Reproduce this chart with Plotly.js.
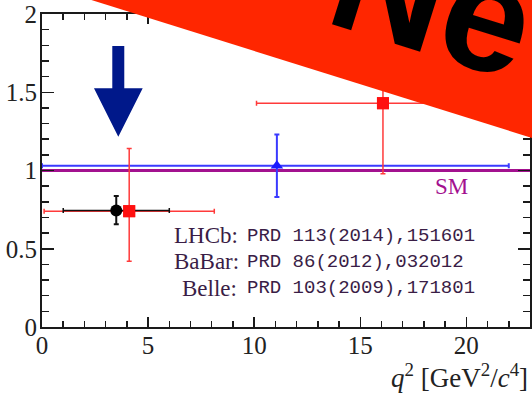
<!DOCTYPE html>
<html>
<head>
<meta charset="utf-8">
<script src="https://cdn.plot.ly/plotly-3.0.1.min.js"></script>
<style>
  html, body { margin: 0; padding: 0; background: #fff; }
  #chart { width: 532px; height: 394px; }
</style>
</head>
<body>
<div id="chart"></div>
<script>
// R_K measurements versus q^2 (GeV^2/c^4)
// LHCb (1 < q^2 < 6)
const lhcbX = [3.5];
const lhcbY = [0.745];
const lhcbXlo = [2.5];
const lhcbXhi = [2.5];
const lhcbYlo = [0.088];
const lhcbYhi = [0.092];

// BaBar (low and high q^2 bins)
const babarX = [4.11, 16.07];
const babarY = [0.74, 1.43];
const babarXlo = [4.01, 5.96];
const babarXhi = [4.01, 5.96];
const babarYlo = [0.32, 0.45];
const babarYhi = [0.40, 0.65];

// Belle (full q^2 range)
const belleX = [11.07];
const belleY = [1.03];
const belleXlo = [11.07];
const belleXhi = [10.93];
const belleYlo = [0.20];
const belleYhi = [0.20];

// Standard Model expectation
const smX = [0, 23];
const smY = [1, 1];

// Reference lines shown in the box
const expNames = ['LHCb:', 'BaBar:', 'Belle:'];
const expRefs = ['PRD 113(2014),151601', 'PRD 86(2012),032012', 'PRD 103(2009),171801'];

const serif = 'Liberation Serif, Times New Roman, serif';
const mono = 'Liberation Mono, Courier New, monospace';
const textCol = '#3a1d46';

function errBars(lo, hi, color, w) {
  return { type: 'data', symmetric: false, array: hi, arrayminus: lo,
           color: color, thickness: w, width: 2.5 };
}

const traces = [
  { x: smX, y: smY, mode: 'lines', line: { color: '#a3118f', width: 3 },
    hoverinfo: 'skip' },
  { x: belleX, y: belleY, mode: 'markers',
    marker: { symbol: 'triangle-up', size: 11, color: '#1a1aff' },
    error_x: errBars(belleXlo, belleXhi, '#3a3aff', 2),
    error_y: errBars(belleYlo, belleYhi, '#3a3aff', 2) },
  { x: babarX, y: babarY, mode: 'markers',
    marker: { symbol: 'square', size: 12, color: '#ff1010' },
    error_x: errBars(babarXlo, babarXhi, '#ff3a3a', 1.5),
    error_y: errBars(babarYlo, babarYhi, '#ff3a3a', 1.5) },
  { x: lhcbX, y: lhcbY, mode: 'markers',
    marker: { symbol: 'circle', size: 12, color: '#000' },
    error_x: errBars(lhcbXlo, lhcbXhi, '#111', 1.5),
    error_y: errBars(lhcbYlo, lhcbYhi, '#111', 2) },
  // BaBar markers again so they sit on top of the LHCb error bar
  { x: babarX, y: babarY, mode: 'markers',
    marker: { symbol: 'square', size: 12, color: '#ff1010' } }
];

const axisCommon = {
  showline: true, linecolor: '#1a1a1a', linewidth: 2, mirror: 'ticks',
  ticks: 'inside', tickwidth: 1.5, tickcolor: '#1a1a1a',
  showgrid: false, zeroline: false,
  tickfont: { family: serif, size: 25, color: '#222' }
};

const annotations = [];
const rowY = [0.292, 0.209, 0.124];
const nameX = [0.266, 0.266, 0.282];
expNames.forEach((n, i) => {
  annotations.push({ xref: 'paper', yref: 'paper', x: nameX[i], y: rowY[i],
    xanchor: 'left', yanchor: 'middle', showarrow: false, text: n,
    font: { family: serif, size: 23, color: textCol } });
  annotations.push({ xref: 'paper', yref: 'paper', x: 0.417, y: rowY[i],
    xanchor: 'left', yanchor: 'middle', showarrow: false, text: expRefs[i],
    font: { family: mono, size: 19, color: textCol } });
});
annotations.push({ x: 19.3, y: 0.895, xref: 'x', yref: 'y', showarrow: false,
  text: 'SM', font: { family: serif, size: 23, color: '#a3118f' } });
annotations.push({ xref: 'paper', yref: 'paper', x: 1.0, y: -0.157,
  xanchor: 'right', yanchor: 'middle', showarrow: false,
  text: '<i>q</i><sup>2</sup> [GeV<sup>2</sup>/<i>c</i><sup>4</sup>]',
  font: { family: serif, size: 27, color: '#222' } });
// banner lettering
annotations.push({ xref: 'paper', yref: 'paper', x: 0.925, y: 0.99,
  xanchor: 'center', yanchor: 'middle', showarrow: false, textangle: 17.4,
  text: 'New', font: { family: 'Liberation Sans, Arial, sans-serif', size: 157,
  weight: 'bold', color: '#000' } });

const layout = {
  width: 532, height: 394,
  margin: { l: 42, r: 2, t: 14, b: 67 },
  paper_bgcolor: '#fff', plot_bgcolor: '#fff',
  showlegend: false,
  xaxis: Object.assign({}, axisCommon, { range: [0, 23], dtick: 5, tick0: 0,
    ticklen: 10, ticklabelstandoff: -5,
    minor: { ticks: 'inside', dtick: 1, tick0: 0, ticklen: 6, tickwidth: 1.5,
             tickcolor: '#1a1a1a', showgrid: false } }),
  yaxis: Object.assign({}, axisCommon, { range: [0, 2], dtick: 0.5, tick0: 0,
    ticklen: 12, ticklabelstandoff: -2,
    minor: { ticks: 'inside', dtick: 0.1, tick0: 0, ticklen: 7, tickwidth: 1.5,
             tickcolor: '#1a1a1a', showgrid: false } }),
  shapes: [
    // downward arrow
    { type: 'path', xref: 'x', yref: 'y', layer: 'above',
      path: 'M 3.313 1.796 L 3.878 1.796 L 3.878 1.525 L 4.746 1.525 L 3.596 1.216 L 2.45 1.525 L 3.313 1.525 Z',
      fillcolor: '#00188a', line: { width: 0 } },
    // red corner banner
    { type: 'path', xref: 'paper', yref: 'paper', layer: 'above',
      path: 'M 0.0881 1.0511 L 1.0205 0.5958 L 1.0205 1.25 L 0.0881 1.25 Z',
      fillcolor: '#ff2600', line: { width: 0 } }
  ],
  annotations: annotations
};

Plotly.newPlot('chart', traces, layout, { staticPlot: true, displayModeBar: false });
</script>
</body>
</html>
